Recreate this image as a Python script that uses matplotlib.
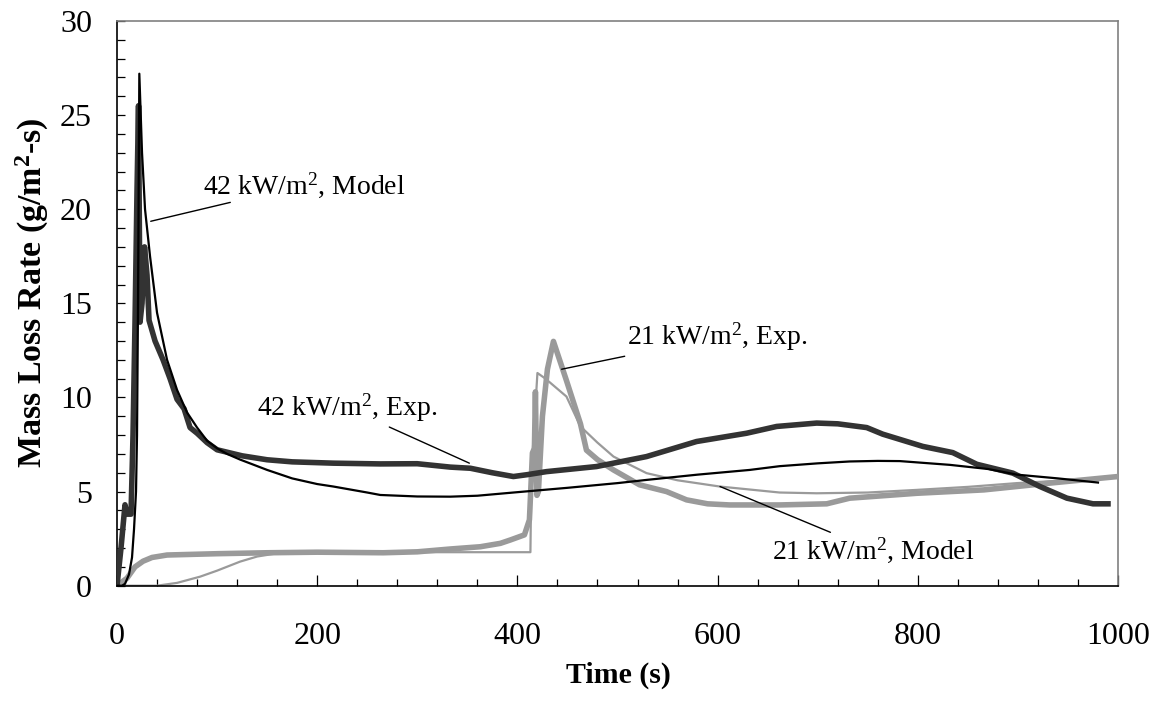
import matplotlib
matplotlib.use("Agg")
import matplotlib.pyplot as plt
from matplotlib.ticker import MultipleLocator

plt.rcParams['font.family'] = ['Liberation Serif', 'DejaVu Serif']
plt.rcParams['mathtext.fontset'] = 'custom'
plt.rcParams['mathtext.rm'] = 'Liberation Serif'
plt.rcParams['mathtext.bf'] = 'Liberation Serif:bold'
plt.rcParams['mathtext.it'] = 'Liberation Serif:italic'

# ---- data ----
t_42_model = [0, 5, 8, 12, 15, 17, 19, 20, 21, 22.3, 25, 28, 33, 40, 50, 60, 70, 80, 90, 100,
              110, 123, 150, 175, 200, 216, 250, 263, 300, 333, 360, 396, 450, 500, 529, 580,
              632, 662, 700, 732, 760, 782, 832, 870, 899, 940, 980]
v_42_model = [0, 0, 0.1, 0.6, 1.5, 3.0, 5.0, 8.0, 15.0, 27.2, 23.0, 20.0, 17.5, 14.5, 12.0, 10.4,
              9.2, 8.4, 7.7, 7.3, 7.0, 6.7, 6.15, 5.7, 5.4, 5.27, 4.95, 4.82, 4.74, 4.73, 4.78,
              4.95, 5.2, 5.45, 5.62, 5.9, 6.15, 6.35, 6.5, 6.6, 6.63, 6.62, 6.42, 6.2, 5.9, 5.7, 5.48]

t_42_exp = [0, 4, 8, 10, 14, 16, 18, 20, 21.5, 23, 25, 27.5, 30, 32, 38, 46, 53, 60, 67, 73, 80,
            90, 100, 125, 150, 175, 216, 263, 300, 333, 353, 375, 396, 410, 429, 479, 529, 579,
            629, 659, 699, 720, 749, 765, 805, 835, 859, 895, 922, 949, 975, 990]
v_42_exp = [0, 2.0, 4.3, 3.8, 3.8, 8.0, 14.0, 21.0, 25.5, 14.0, 15.0, 18.0, 16.5, 14.1, 13.0,
            12.0, 11.0, 9.9, 9.4, 8.4, 8.1, 7.6, 7.22, 6.9, 6.69, 6.58, 6.51, 6.47, 6.48, 6.3,
            6.24, 6.0, 5.8, 5.9, 6.06, 6.33, 6.86, 7.66, 8.1, 8.46, 8.64, 8.6, 8.4, 8.05, 7.4,
            7.07, 6.45, 5.98, 5.27, 4.65, 4.35, 4.35]

t_21_exp = [0, 10, 18, 26, 35, 50, 100, 150, 200, 266, 300, 333, 363, 383, 393, 407, 412, 415,
            417, 418, 419.5, 421, 425, 430, 436, 449, 463, 469, 480, 496, 522, 549, 569, 590,
            612, 662, 709, 732, 799, 866, 932, 1000]
v_21_exp = [0, 0.4, 1.0, 1.3, 1.5, 1.63, 1.7, 1.75, 1.78, 1.75, 1.8, 1.95, 2.07, 2.25, 2.43,
            2.7, 3.5, 7.05, 7.3, 10.3, 4.8, 5.0, 9.0, 11.5, 12.98, 10.9, 8.6, 7.2, 6.7, 6.15,
            5.36, 5.0, 4.56, 4.35, 4.29, 4.29, 4.35, 4.65, 4.91, 5.09, 5.45, 5.8]

t_21_model = [0, 40, 60, 83, 100, 123, 140, 160, 200, 300, 413, 414, 420, 428, 449, 463, 480,
              496, 529, 560, 602, 662, 699, 750, 799, 850, 899, 950, 1000]
v_21_model = [0, 0, 0.15, 0.48, 0.8, 1.28, 1.55, 1.72, 1.78, 1.78, 1.78, 6.0, 11.3, 11.0, 10.05,
              8.46, 7.6, 6.86, 5.98, 5.6, 5.27, 4.95, 4.91, 4.95, 5.09, 5.25, 5.45, 5.6, 5.8]

x_ticks = [0, 200, 400, 600, 800, 1000]
y_ticks = [0, 5, 10, 15, 20, 25, 30]

# ---- figure ----
fig = plt.figure(figsize=(11.6, 7.09), dpi=100)
ax = fig.add_axes([117 / 1160, 1 - 585.7 / 709, (1118 - 117) / 1160, (585.7 - 21) / 709])

ax.plot(t_21_model, v_21_model, color='#9a9a9a', lw=1.6, zorder=2)
ax.plot(t_21_exp, v_21_exp, color='#9a9a9a', lw=4.0, solid_joinstyle='round', zorder=3)
ax.plot(t_42_exp, v_42_exp, color='#333333', lw=4.0, solid_joinstyle='round', zorder=4)
ax.plot(t_42_model, v_42_model, color='black', lw=1.6, zorder=5)

ax.set_xlim(0, 1000)
ax.set_ylim(0, 30)
ax.set_xticks(x_ticks)
ax.set_yticks(y_ticks)
ax.xaxis.set_minor_locator(MultipleLocator(40))
ax.yaxis.set_minor_locator(MultipleLocator(1))

ax.tick_params(axis='x', which='major', direction='in', length=8, width=0.9, pad=26, labelsize=23)
ax.tick_params(axis='x', which='minor', direction='in', length=5, width=0.9)
ax.tick_params(axis='y', which='major', direction='in', length=6, width=0.9, pad=18, labelsize=23)
ax.tick_params(axis='y', which='minor', direction='in', length=6, width=0.9)

for side in ['left', 'bottom']:
    ax.spines[side].set_color('black')
    ax.spines[side].set_linewidth(1.2)
for side in ['top', 'right']:
    ax.spines[side].set_color('#808080')
    ax.spines[side].set_linewidth(1.2)

ax.set_xlabel('Time (s)', fontsize=21.5, fontweight='bold')
ax.xaxis.set_label_coords(0.5005, -0.158)
ax.xaxis.label.set_verticalalignment('center')
ax.set_ylabel(r'Mass Loss Rate (g/m$^{\mathbf{2}}$-s)', fontsize=24.5, fontweight='bold')
ax.yaxis.set_label_coords(-0.0844, 0.519)
ax.yaxis.label.set_verticalalignment('center')

fs = 20
ann = dict(arrowstyle='-', color='black', lw=1.0, shrinkA=0, shrinkB=0)
ax.annotate(r'42 kW/m$^{2}$, Model', xy=(33.7, 19.36), xytext=(86.2, 21.3),
            fontsize=fs, ha='left', va='center', arrowprops=ann)
ax.annotate(r'42 kW/m$^{2}$, Exp.', xy=(352, 6.51), xytext=(320, 9.44),
            fontsize=fs, ha='right', va='center', arrowprops=ann)
ax.annotate(r'21 kW/m$^{2}$, Exp.', xy=(444.2, 11.5), xytext=(509.5, 13.2),
            fontsize=fs, ha='left', va='center', arrowprops=ann)
ax.annotate(r'21 kW/m$^{2}$, Model', xy=(602.4, 5.27), xytext=(654, 1.9),
            fontsize=fs, ha='left', va='center', arrowprops=ann)

fig.savefig('out.png', dpi=100)
